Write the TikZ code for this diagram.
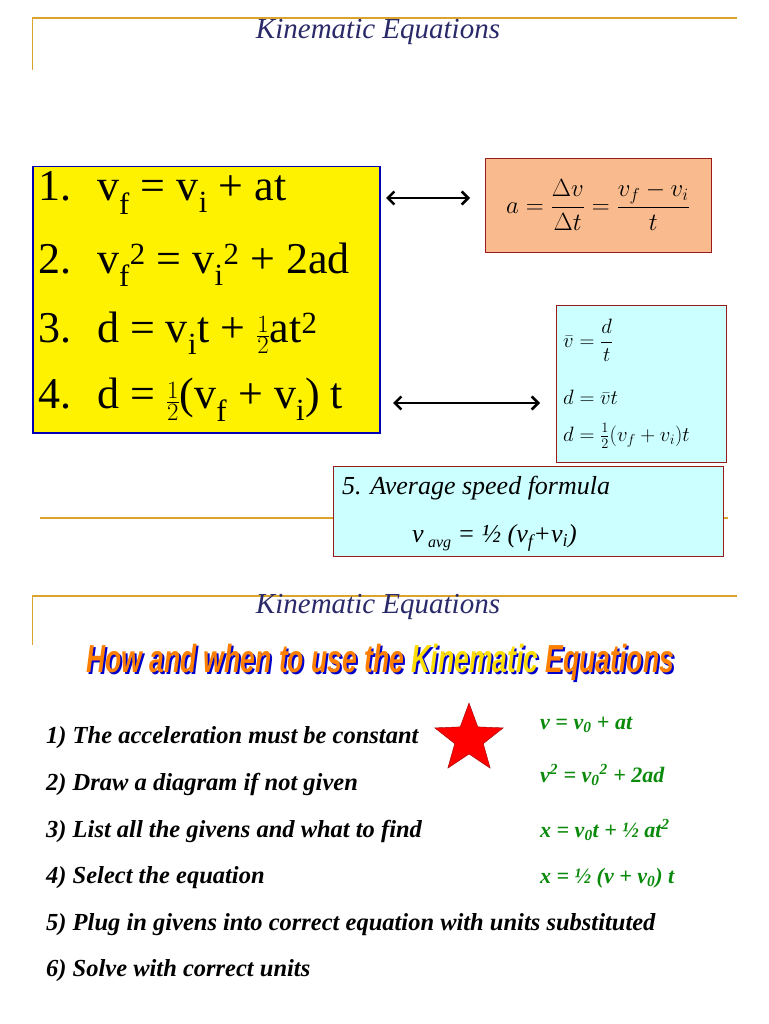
\documentclass[tikz,border=0pt]{standalone}
\usepackage{amsmath}
\usepackage{fontspec}
\setmainfont{Liberation Serif}
\newfontfamily\banfont{Liberation Sans}
\usetikzlibrary{shapes.geometric,arrows.meta}
\definecolor{gold}{HTML}{D9A32C}
\definecolor{boxred}{HTML}{9A1B1B}
\definecolor{orangefill}{HTML}{F9BB8E}
\definecolor{cyanfill}{HTML}{CCFFFF}
\definecolor{eqgreen}{HTML}{0A8A0A}
\definecolor{titleblue}{HTML}{2A2A6A}
\tikzset{
  rule/.style={gold,line width=2pt},
  vrule/.style={gold,line width=1pt},
  title/.style={font=\fontsize{29}{29}\selectfont\itshape,text=titleblue},
  big/.style={anchor=west,font=\fontsize{44}{44}\selectfont,inner sep=0pt},
  dbl/.style={Straight Barb-Straight Barb,line width=2.5pt},
  item/.style={anchor=west,font=\fontsize{24.5}{24.5}\selectfont\bfseries\itshape,inner sep=0pt},
  geq/.style={anchor=west,font=\fontsize{22}{22}\selectfont\bfseries\itshape,text=eqgreen,inner sep=0pt},
  sm/.style={anchor=west,font=\fontsize{22}{22}\selectfont,inner sep=0pt}
}
\begin{document}
\begin{tikzpicture}[x=1pt,y=-1pt]
\useasboundingbox (0,0) rectangle (768,1024);
% top section
\draw[rule] (32,18) -- (737,18);
\draw[vrule] (32,18) -- (32,70);
\node[title] (t1) at (378,32) {Kinematic Equations};
\draw[rule] (40,518) -- (728,518);
% yellow box
\node[draw=blue!70!black,fill=yellow,line width=1.5pt,minimum width=347pt,minimum height=266pt,anchor=north west] (yb) at (32,166) {};
\node[big] (e1) at (38,193) {1.\hspace{26pt}v\textsubscript{f} = v\textsubscript{i} + at};
\node[big] (e2) at (38,265) {2.\hspace{26pt}v\textsubscript{f}\textsuperscript{2} = v\textsubscript{i}\textsuperscript{2} + 2ad};
\node[big] (e3) at (38,333) {3.\hspace{26pt}d = v\textsubscript{i}t + $\tfrac{1}{2}$at\textsuperscript{2}};
\node[big] (e4) at (38,400) {4.\hspace{26pt}d = $\tfrac{1}{2}$(v\textsubscript{f} + v\textsubscript{i}) t};
% orange box
\node[draw=boxred,fill=orangefill,line width=1pt,minimum width=226pt,minimum height=94pt,anchor=north west] (ob) at (485,158) {};
\node[font=\fontsize{27}{27}\selectfont] (of) at (598,205) {$a=\dfrac{\Delta v}{\Delta t}=\dfrac{v_f-v_i}{t}$};
% cyan box
\node[draw=boxred,fill=cyanfill,line width=1pt,minimum width=170pt,minimum height=157pt,anchor=north west] (cb) at (556,305) {};
\node[sm] (c1) at (563,340) {$\bar v=\dfrac{d}{t}$};
\node[sm] (c2) at (563,397) {$d=\bar v t$};
\node[sm] (c3) at (563,436) {$d=\frac12(v_f+v_i)t$};
% arrows
\draw[dbl] (386,198) -- (470,198);
\draw[dbl] (393,403) -- (540,403);
% box 5
\node[draw=boxred,fill=cyanfill,line width=1pt,minimum width=390pt,minimum height=90pt,anchor=north west] (b5) at (333,466) {};
\node[anchor=west,font=\fontsize{26}{26}\selectfont\itshape,inner sep=0pt] (b5a) at (342,488) {5. Average speed formula};
\node[anchor=west,font=\fontsize{26}{26}\selectfont\itshape,inner sep=0pt] (b5b) at (412,538) {v\,\raisebox{-5pt}{\fontsize{16}{16}\selectfont avg} = ½ (v\textsubscript{f}+v\textsubscript{i})};
% second section
\draw[rule] (32,596) -- (737,596);
\draw[vrule] (32,596) -- (32,645);
\node[title] (t2) at (378,607) {Kinematic Equations};
\node[font=\fontsize{34}{34}\selectfont\banfont\bfseries\itshape,text=blue!80!black] (bs) at (382,664) {\scalebox{0.78}[1.15]{How and when to use the Kinematic Equations}};
\node[font=\fontsize{34}{34}\selectfont\banfont\bfseries\itshape,text=orange] (ban) at (380,662) {\scalebox{0.78}[1.15]{How and when to use the \textcolor{yellow!80!orange}{Kinematic} Equations}};
% list
\node[item] (l1) at (46,738) {1) The acceleration must be constant};
\node[item] (l2) at (46,784) {2) Draw a diagram if not given};
\node[item] (l3) at (46,831) {3) List all the givens and what to find};
\node[item] (l4) at (46,878) {4) Select the equation};
\node[item] (l5) at (46,925) {5) Plug in givens into correct equation with units substituted};
\node[item] (l6) at (46,971) {6) Solve with correct units};
\node[star,star points=5,star point ratio=2.4,fill=red,draw=red!60!black,minimum size=72pt,inner sep=0pt] (st) at (469,739) {};
% green equations
\node[geq] (g1) at (540,725) {v = v\textsubscript{0} + at};
\node[geq] (g2) at (540,775) {v\textsuperscript{2} = v\textsubscript{0}\textsuperscript{2} + 2ad};
\node[geq] (g3) at (540,830) {x = v\textsubscript{0}t + ½ at\textsuperscript{2}};
\node[geq] (g4) at (540,878) {x = ½ (v + v\textsubscript{0}) t};
\end{tikzpicture}
\end{document}
